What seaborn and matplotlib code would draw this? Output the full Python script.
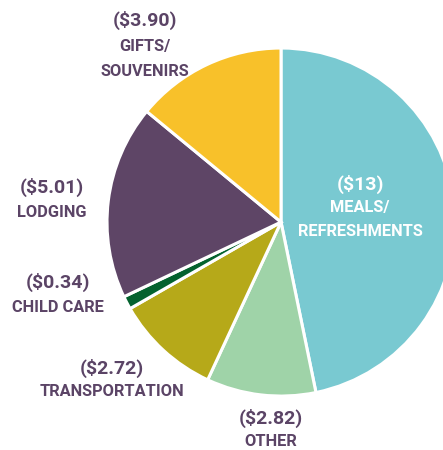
import seaborn as sns
import matplotlib.pyplot as plt

sns.set_theme(style="white")
plt.rcParams['font.family'] = ['Roboto', 'DejaVu Sans']

categories = ["MEALS/\nREFRESHMENTS", "OTHER", "TRANSPORTATION", "CHILD CARE", "LODGING", "GIFTS/\nSOUVENIRS"]
amounts = [13, 2.82, 2.72, 0.34, 5.01, 3.90]
amount_labels = ["($13)", "($2.82)", "($2.72)", "($0.34)", "($5.01)", "($3.90)"]
colors = ["#79C9D1", "#9FD3A8", "#B6A919", "#04622E", "#5E4566", "#F8C12A"]

text_color = "#5B4466"

fig = plt.figure(figsize=(4.43, 4.5), dpi=100)
ax = fig.add_axes([0, 0, 1, 1])
ax.pie(amounts, colors=colors, startangle=90, counterclock=False, radius=1,
       wedgeprops=dict(edgecolor="white", linewidth=2.2))
ax.set_xlim(-1.615, 0.931)
ax.set_ylim(-1.31, 1.276)
ax.set_aspect("auto")
ax.axis("off")

# label anchor: x, y of amount line, y of first name line (data units)
label_pos = [
    (0.454, 0.218, 0.086),    # meals
    (-0.057, -1.126, -1.264), # other
    (-0.971, -0.839, -0.971), # transportation
    (-1.282, -0.345, -0.489), # child care
    (-1.316, 0.201, 0.052),   # lodging
    (-0.782, 1.161, 1.006),   # gifts
]
line_step = 0.140

for i, (x, y_amt, y_name) in enumerate(label_pos):
    c = "white" if i == 0 else text_color
    ax.text(x, y_amt, amount_labels[i], ha="center", va="center",
            fontsize=14, fontweight="bold", color=c)
    for j, line in enumerate(categories[i].split("\n")):
        ax.text(x, y_name - j * line_step, line, ha="center", va="center",
                fontsize=11.8, fontweight="bold", color=c)

fig.savefig("out.png", dpi=100)
